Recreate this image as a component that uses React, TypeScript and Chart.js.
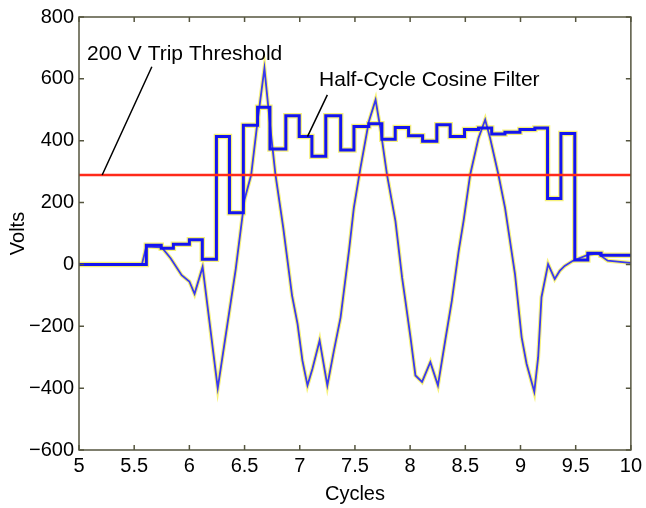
import { useEffect, useRef } from "react";
import { Chart, registerables } from "chart.js";
Chart.register(...registerables);

// Half-cycle cosine filter output (step starts at x)
const stepX = [5.0, 5.61, 5.745, 5.855, 6.0, 6.117, 6.245, 6.363, 6.489, 6.618, 6.73, 6.874, 6.995, 7.11, 7.236, 7.371, 7.491, 7.626, 7.744, 7.865, 7.986, 8.113, 8.242, 8.363, 8.493, 8.619, 8.739, 8.859, 8.995, 9.13, 9.245, 9.366, 9.492, 9.61, 9.73, 10.0];
const stepY = [0, 62, 52, 65, 80, 17, 414, 167, 450, 508, 373, 481, 414, 350, 481, 370, 446, 455, 405, 443, 416, 398, 452, 414, 436, 441, 422, 427, 436, 441, 213, 423, 14, 36, 30, 30];

// Raw voltage samples
const rawX = [5.0, 5.57, 5.61, 5.75, 5.83, 5.93, 6.0, 6.047, 6.12, 6.257, 6.42, 6.5, 6.56, 6.62, 6.68, 6.74, 6.78, 6.85, 6.93, 6.98, 7.024, 7.07, 7.115, 7.18, 7.25, 7.31, 7.37, 7.446, 7.49, 7.55, 7.626, 7.687, 7.73, 7.79, 7.867, 7.927, 7.957, 8.003, 8.048, 8.108, 8.183, 8.252, 8.318, 8.378, 8.44, 8.484, 8.544, 8.619, 8.68, 8.725, 8.8, 8.86, 8.95, 9.01, 9.055, 9.125, 9.16, 9.19, 9.25, 9.31, 9.355, 9.4, 9.475, 9.61, 9.7, 9.79, 9.97, 10.0];
const rawY = [0, 0, 58, 55, 20, -35, -55, -95, -8, -400, -15, 210, 290, 470, 634, 420, 290, 120, -100, -192, -310, -391, -337, -246, -391, -278, -171, 44, 183, 312, 462, 532, 441, 291, 140, -42, -117, -235, -359, -380, -316, -391, -246, -117, 44, 140, 290, 408, 468, 408, 290, 183, -31, -235, -321, -412, -300, -106, 1, -47, -21, -5, 12, 31, 35, 12, 6, 5];

const thresholdVolts = 289;
const xTicks = [5, 5.5, 6, 6.5, 7, 7.5, 8, 8.5, 9, 9.5, 10];
const yTicks = [-600, -400, -200, 0, 200, 400, 600, 800];
const thresholdLabel = "200 V Trip Threshold";
const filterLabel = "Half-Cycle Cosine Filter";

const FONT = "Arial, 'Liberation Sans', Helvetica, sans-serif";

const pts = (xs: number[], ys: number[]) => xs.map((x, i) => ({ x, y: ys[i] }));

const framePlugin = {
  id: "framePlugin",
  afterDatasetsDraw(chart: any) {
    const { ctx, chartArea: a, scales } = chart;
    const xs = scales.x, ys = scales.y;
    ctx.save();
    // frame
    ctx.strokeStyle = "#55553f";
    ctx.lineWidth = 1.5;
    ctx.strokeRect(a.left, a.top, a.right - a.left, a.bottom - a.top);
    // inward ticks
    const L = 5;
    ctx.beginPath();
    xTicks.forEach((v) => {
      const px = xs.getPixelForValue(v);
      ctx.moveTo(px, a.bottom); ctx.lineTo(px, a.bottom - L);
      ctx.moveTo(px, a.top); ctx.lineTo(px, a.top + L);
    });
    yTicks.forEach((v) => {
      const py = ys.getPixelForValue(v);
      ctx.moveTo(a.left, py); ctx.lineTo(a.left + L, py);
      ctx.moveTo(a.right, py); ctx.lineTo(a.right - L, py);
    });
    ctx.stroke();
    // annotations
    ctx.fillStyle = "#000";
    ctx.strokeStyle = "#000";
    ctx.lineWidth = 1.5;
    ctx.font = `21px ${FONT}`;
    ctx.textBaseline = "middle";
    ctx.textAlign = "left";
    ctx.fillText(thresholdLabel, xs.getPixelForValue(5.072), ys.getPixelForValue(681));
    ctx.fillText(filterLabel, xs.getPixelForValue(7.175), ys.getPixelForValue(597));
    ctx.beginPath();
    ctx.moveTo(xs.getPixelForValue(5.66), ys.getPixelForValue(639));
    ctx.lineTo(xs.getPixelForValue(5.21), ys.getPixelForValue(thresholdVolts));
    ctx.moveTo(xs.getPixelForValue(7.25), ys.getPixelForValue(548));
    ctx.lineTo(xs.getPixelForValue(7.07), ys.getPixelForValue(413));
    ctx.stroke();
    ctx.restore();
  },
};

export default function App() {
  const ref = useRef<HTMLCanvasElement | null>(null);
  useEffect(() => {
    if (!ref.current) return;
    const step = pts(stepX, stepY);
    const raw = pts(rawX, rawY);
    const thr = [{ x: 5, y: thresholdVolts }, { x: 10, y: thresholdVolts }];
    const chart = new Chart(ref.current, {
      type: "line",
      data: {
        datasets: [
          { data: raw, borderColor: "rgba(245,240,110,0.9)", borderWidth: 4, pointRadius: 0, order: 6, tension: 0 },
          { data: step, borderColor: "rgba(245,240,110,0.9)", borderWidth: 5.5, pointRadius: 0, stepped: "before", order: 5 },
          { data: raw, borderColor: "#3a3aee", borderWidth: 1.8, pointRadius: 0, order: 4, tension: 0 },
          { data: step, borderColor: "#1414f0", borderWidth: 3, pointRadius: 0, stepped: "before", order: 3 },
          { data: thr, borderColor: "#ff2a1a", borderWidth: 2.5, pointRadius: 0, order: 1 },
        ],
      },
      options: {
        responsive: false,
        animation: false,
        events: [],
        layout: { padding: { top: 15, right: 13, left: 0, bottom: 0 } },
        plugins: { legend: { display: false }, tooltip: { enabled: false } },
        scales: {
          x: {
            type: "linear",
            min: 5,
            max: 10,
            afterFit: (s: any) => { s.height = 58; },
            afterBuildTicks: (s: any) => { s.ticks = xTicks.map((v) => ({ value: v })); },
            ticks: { color: "#000", font: { size: 20, family: FONT }, padding: 4, maxRotation: 0, autoSkip: false, callback: (v: any) => String(v) },
            grid: { display: false, drawTicks: false, tickLength: 0 },
            border: { display: false },
            title: { display: true, text: "Cycles", color: "#000", font: { size: 20, family: FONT }, padding: { top: 0, bottom: 2 } },
          },
          y: {
            type: "linear",
            min: -600,
            max: 800,
            afterFit: (s: any) => { s.width = 79; },
            afterBuildTicks: (s: any) => { s.ticks = yTicks.map((v) => ({ value: v })); },
            ticks: { color: "#000", font: { size: 20, family: FONT }, padding: 5, autoSkip: false, callback: (v: any) => (v < 0 ? "\u2212" + Math.abs(v) : String(v)) },
            grid: { display: false, drawTicks: false, tickLength: 0 },
            border: { display: false },
            title: { display: true, text: "Volts", color: "#000", font: { size: 20, family: FONT }, padding: { top: 6, bottom: 0 } },
          },
        },
      },
      plugins: [framePlugin],
    });
    return () => chart.destroy();
  }, []);
  return (
    <div style={{ position: "absolute", left: 0, top: 0, width: 646, height: 508, background: "#fff" }}>
      <canvas ref={ref} width={646} height={508} />
    </div>
  );
}
